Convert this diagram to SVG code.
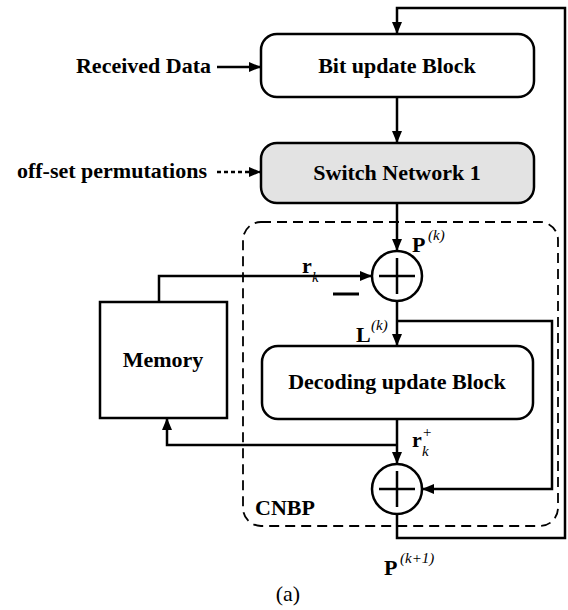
<svg xmlns="http://www.w3.org/2000/svg" width="568" height="610" viewBox="0 0 568 610">
<style>
.box{fill:#fff;stroke:#000;stroke-width:2.5}
.gray{fill:#e3e3e3}
.ln{fill:none;stroke:#000;stroke-width:2.5}
.t{font-family:"Liberation Serif",serif;font-weight:bold;font-size:22px;fill:#000}
.c{text-anchor:middle}
.it{font-family:"Liberation Serif",serif;font-style:italic;font-size:15px;fill:#000}
.r{font-family:"Liberation Serif",serif;font-size:22px;fill:#000}
</style>
<defs>
<marker id="ah" viewBox="0 0 12 10" refX="12" refY="5" markerWidth="12" markerHeight="10" markerUnits="userSpaceOnUse" orient="auto">
<path d="M0,0 L12,5 L0,10 z" fill="#000"/>
</marker>
</defs>
<rect x="243" y="222" width="315" height="304" rx="18" fill="none" stroke="#000" stroke-width="1.8" stroke-dasharray="10,6"/>
<g id="connectors">
<path class="ln" d="M397,514 V538 H565 V8 H397 V34" marker-end="url(#ah)"/>
<path class="ln" d="M397,97 V143" marker-end="url(#ah)"/>
<path class="ln" d="M397,203 V251" marker-end="url(#ah)"/>
<path class="ln" d="M159,302 V276 H372" marker-end="url(#ah)"/>
<path class="ln" d="M397,301 V346" marker-end="url(#ah)"/>
<path class="ln" d="M397,321 H552 V489 H422" marker-end="url(#ah)"/>
<path class="ln" d="M397,419 V464" marker-end="url(#ah)"/>
<path class="ln" d="M397,445 H167 V418" marker-end="url(#ah)"/>
<path class="ln" d="M217,67 H261" marker-end="url(#ah)"/>
<path class="ln" d="M217,172 H261" stroke-dasharray="4,3" marker-end="url(#ah)"/>
<line x1="333" y1="294" x2="359" y2="294" stroke="#000" stroke-width="3"/>
</g>
<g id="bit-update">
<rect class="box" x="261" y="34" width="273" height="63" rx="16"/>
<text class="t c" x="397" y="73">Bit update Block</text>
</g>
<g id="switch-network">
<rect class="box gray" x="261" y="143" width="273" height="60" rx="16"/>
<text class="t c" x="397" y="180">Switch Network 1</text>
</g>
<g id="received-data">
<text class="t" x="211" y="73" text-anchor="end">Received Data</text>
</g>
<g id="offset-perm">
<text class="t" x="207" y="178" text-anchor="end">off-set permutations</text>
</g>
<g id="sum1">
<circle class="box" cx="397" cy="276" r="25"/>
<path class="ln" d="M379,276 H415 M397,258 V294"/>
</g>
<g id="decoding">
<rect class="box" x="262" y="346" width="271" height="73" rx="16"/>
<text class="t c" x="397" y="389">Decoding update Block</text>
</g>
<g id="memory">
<rect class="box" x="100" y="302" width="127" height="116"/>
<text class="t c" x="163" y="367">Memory</text>
</g>
<g id="sum2">
<circle class="box" cx="397" cy="489" r="25"/>
<path class="ln" d="M379,489 H415 M397,471 V507"/>
</g>
<g id="labels">
<text class="t" x="412" y="252">P</text><text class="it" x="428" y="240">(k)</text>
<text class="t" x="302" y="273">r</text><text class="it" x="312" y="282">k</text>
<text class="t" x="356" y="342">L</text><text class="it" x="371" y="330">(k)</text>
<text class="t" x="412" y="447">r</text><text class="it" x="422" y="456">k</text><text class="it" x="422" y="437">+</text>
<text class="t" x="255" y="515">CNBP</text>
<text class="t" x="384" y="575">P</text><text class="it" x="400" y="563">(k+1)</text>
<text class="r c" x="288" y="601">(a)</text>
</g>
</svg>
